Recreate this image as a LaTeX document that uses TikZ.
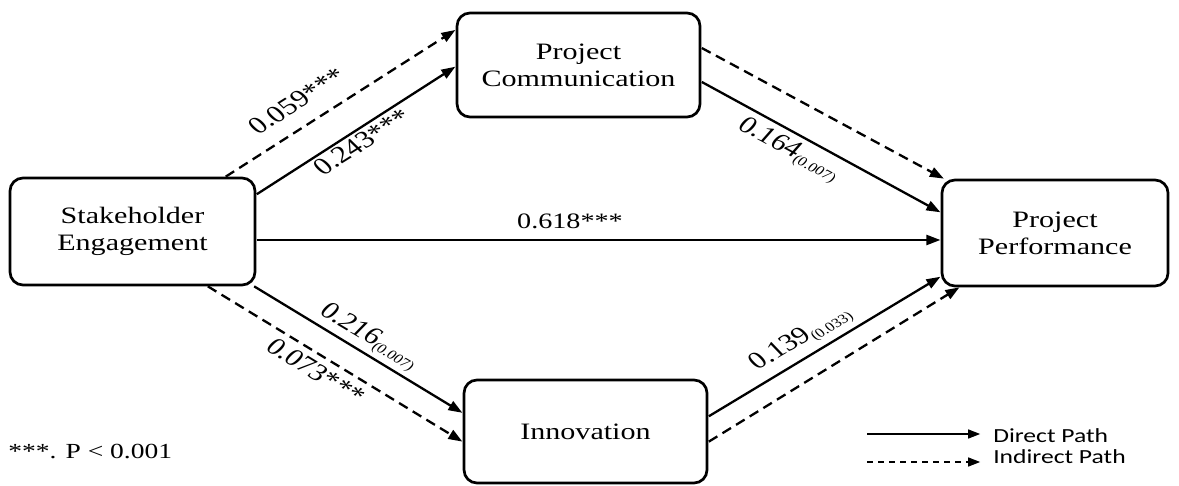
\documentclass[tikz,border=0pt]{standalone}
\usepackage{fontspec}
\setmainfont{Liberation Serif}
\newfontfamily\legendfont{Carlito}
\usetikzlibrary{arrows.meta}
\begin{document}
\begin{tikzpicture}[x=0.78125pt, y=-1pt, xscale=1.28,
  every node/.style={transform shape},
  box/.style={draw, line width=2.7pt, rounded corners=13pt, align=center,
    inner sep=0pt, font=\fontsize{23.5}{27}\selectfont},
  lab/.style={inner sep=0pt, font=\fontsize{24}{26}\selectfont},
  direct/.style={line width=2.3pt, -{Triangle[length=14pt,width=10pt]}},
  indirect/.style={direct, dash pattern=on 10pt off 6pt},
  legtxt/.style={inner sep=0pt, anchor=base west, font=\legendfont\fontsize{20}{22}\selectfont}]
\useasboundingbox (0,0) rectangle (1179,486);

% constructs
\node[box, minimum width=191.4pt, minimum height=107pt] (SE) at (132.5,231.5) {Stakeholder\\Engagement};
\node[box, minimum width=189.8pt, minimum height=104pt] (PC) at (578.5,65) {Project\\Communication};
\node[box, minimum width=176.6pt, minimum height=106pt] (PP) at (1055,233) {Project\\Performance};
\node[box, minimum width=189.8pt, minimum height=103pt] (IN) at (585.5,431.5) {Innovation};

% paths
\draw[indirect] (SE.37.4) -- (PC.160);
\draw[direct]   (SE.21.9) -- (PC.181.8);
\draw[indirect] (PC.10.7) -- (PP.148.4);
\draw[direct]   (PC.-10.7) -- (PP.167.2);
\draw[direct]   (SE.-5) -- (SE.-5 -| PP.west);
\draw[direct]   (SE.-30.4) -- (IN.169);
\draw[indirect] (SE.-43.4) -- (IN.186.9);
\draw[direct]   (IN.9.9) -- (PP.206.5);
\draw[indirect] (IN.-6.9) -- (PP.216.4);

% coefficients
\newcommand{\pval}[1]{\raisebox{-3pt}{\fontsize{13}{13}\selectfont(#1)}}
\node[lab, rotate=38.9] (l1) at (297,101) {0.059***};
\node[lab, rotate=38.7] (l2) at (362,142) {0.243***};
\node[lab, rotate=-34.5] (l3) at (789,150) {0.164\pval{0.007}};
\node[lab, anchor=base, font=\fontsize{22}{24}\selectfont] (l4) at (570,229) {0.618***};
\node[lab, rotate=-37.3] (l5) at (369,337) {0.216\pval{0.007}};
\node[lab, rotate=-38] (l6) at (316,371) {0.073***};
\node[lab, rotate=36.9] (l7) at (801,339) {0.139\pval{0.033}};

% note
\node[lab, anchor=base west, font=\fontsize{21.5}{24}\selectfont] (note) at (8,458) {***. P < 0.001};

% legend
\coordinate (d0) at (867,434);
\coordinate (d1) at (980,434);
\coordinate (i0) at (867,462);
\coordinate (i1) at (980,462);
\draw[line width=1.3pt, -{Triangle[length=12pt,width=9pt]}] (d0) -- (d1);
\draw[line width=1.3pt, dash pattern=on 6pt off 5pt, -{Triangle[length=12pt,width=9pt]}] (i0) -- (i1);
\node[legtxt] (dl) at (993,442) {Direct Path};
\node[legtxt] (il) at (993,463) {Indirect Path};
\end{tikzpicture}
\end{document}
